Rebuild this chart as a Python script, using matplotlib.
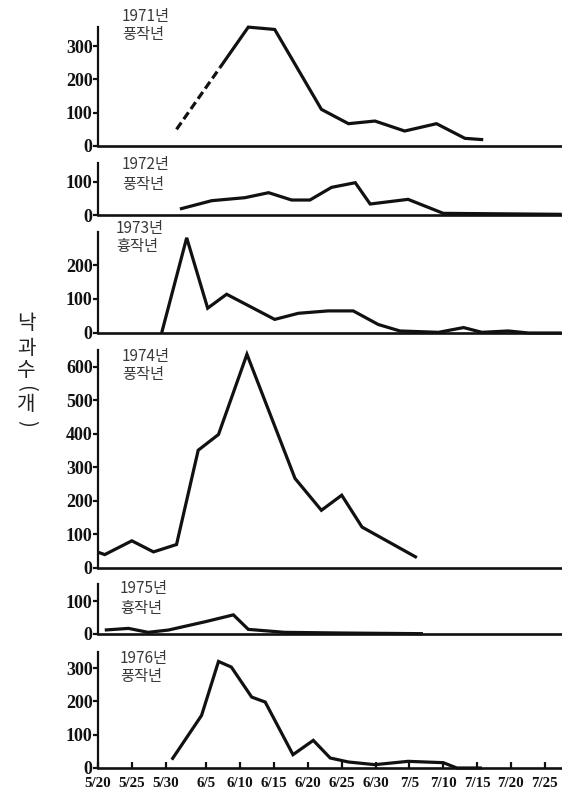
import matplotlib
matplotlib.use("Agg")
import matplotlib.pyplot as plt
from datetime import date

# ---- data: days counted from 20 May, dropped-fruit counts ----
days_1971_dashed = [11.6, 18.0]
vals_1971_dashed = [50, 235]
days_1971 = [18.0, 22.2, 26.1, 33.0, 37.0, 40.9, 45.3, 50.0, 54.2, 56.9]
vals_1971 = [235, 357, 350, 110, 67, 75, 45, 67, 23, 19]

days_1972 = [12.1, 16.8, 21.7, 25.2, 28.6, 31.3, 34.5, 38.0, 40.2, 45.8, 51.0, 68.5]
vals_1972 = [18, 43, 52, 67, 45, 45, 83, 97, 33, 47, 5, 2]

days_1973 = [9.4, 13.1, 16.2, 19.0, 26.1, 29.6, 34.0, 37.7, 41.4, 44.6, 50.3, 54.0,
             56.7, 60.6, 63.6, 68.5]
vals_1973 = [0, 280, 73, 114, 40, 58, 65, 65, 25, 6, 2, 16, 2, 6, 0, 0]

days_1974 = [0.0, 1.0, 5.0, 8.2, 11.6, 14.8, 17.8, 22.0, 29.1, 33.0, 36.0, 39.0, 47.1]
vals_1974 = [47, 40, 81, 48, 70, 351, 398, 637, 267, 172, 217, 122, 31]

days_1975 = [1.0, 4.5, 7.4, 10.4, 15.8, 20.0, 22.2, 27.6, 36.0, 48.0]
vals_1975 = [12, 17, 5, 12, 37, 58, 14, 5, 3, 1]

days_1976 = [10.9, 15.3, 17.8, 19.7, 22.7, 24.7, 28.8, 31.8, 34.3, 37.0, 40.9, 45.8,
             51.0, 53.0, 56.7]
vals_1976 = [25, 158, 320, 303, 213, 198, 40, 83, 30, 18, 10, 20, 16, 0, 0]

years = ["1971년", "1972년", "1973년", "1974년", "1975년", "1976년"]
harvest = ["풍작년", "풍작년", "흉작년", "풍작년", "흉작년", "풍작년"]
yticks = [[0, 100, 200, 300], [0, 100], [0, 100, 200],
          [0, 100, 200, 300, 400, 500, 600], [0, 100], [0, 100, 200, 300]]
xtick_labels = ["5/20", "5/25", "5/30", "6/5", "6/10", "6/15", "6/20", "6/25",
                "6/30", "7/5", "7/10", "7/15", "7/20", "7/25"]
ylabel_chars = ["낙", "과", "수", "(", "개", ")"]

series = [(days_1971, vals_1971), (days_1972, vals_1972), (days_1973, vals_1973),
          (days_1974, vals_1974), (days_1975, vals_1975), (days_1976, vals_1976)]

# ---- layout (pixels) ----
W, H = 562, 792
LEFT, RIGHT = 98, 562
PX_PER_DAY = 6.77
# (baseline y in px, y-limit top, px per count unit)
panels = [(146, 358, 0.333), (215, 156, 0.333), (333, 298, 0.34),
          (568, 650, 0.3355), (634, 153, 0.33), (768, 348, 0.333)]
label_pos = [(122, 16, 35), (122, 165, 184), (116, 228, 246),
             (122, 356, 374), (120, 589, 608), (120, 658, 676)]

start = date(1976, 5, 20)
def day_offset(lbl):
    m, d = (int(p) for p in lbl.split("/"))
    return (date(1976, m, d) - start).days

xtick_pos = [day_offset(t) for t in xtick_labels]

fig = plt.figure(figsize=(W / 100, H / 100), dpi=100)
fig.patch.set_facecolor("white")

LINE_KW = dict(color="#111111", lw=2.3, solid_joinstyle="miter", solid_capstyle="butt")
TICK_FONT = dict(family=["Liberation Serif"], weight="bold", size=13)
XTICK_FONT = dict(family=["Liberation Serif"], weight="bold", size=10.8)
KR = ["Noto Sans CJK KR", "DejaVu Sans"]

axes = []
for i, ((y0, ymax, ppu), (xs, ys)) in enumerate(zip(panels, series)):
    h = ymax * ppu
    ax = fig.add_axes([LEFT / W, (H - y0) / H, (RIGHT - LEFT) / W, h / H])
    ax.set_facecolor("none")
    ax.set_xlim(0, (RIGHT - LEFT) / PX_PER_DAY)
    ax.set_ylim(0, ymax)
    for s in ("top", "right"):
        ax.spines[s].set_visible(False)
    ax.spines["left"].set_linewidth(1.6)
    ax.spines["bottom"].set_linewidth(1.9)
    ax.spines["left"].set_color("#111111")
    ax.spines["bottom"].set_color("#111111")
    ax.spines["bottom"].set_zorder(1)

    ax.plot(xs, ys, clip_on=False, zorder=3, **LINE_KW)
    if i == 0:
        ax.plot(days_1971_dashed, vals_1971_dashed, color="#111111", lw=2.3,
                dashes=(2.6, 1.3), dash_capstyle="butt", zorder=3)

    ax.set_yticks(yticks[i])
    ax.set_yticklabels([str(v) for v in yticks[i]], **TICK_FONT)
    ax.tick_params(axis="y", direction="out", length=3.5, width=1.6, pad=0.3,
                   colors="#111111")
    if i == len(panels) - 1:
        ax.set_xticks(xtick_pos)
        ax.set_xticklabels(xtick_labels, **XTICK_FONT)
        ax.tick_params(axis="x", direction="in", length=4.5, width=1.6, pad=6.5,
                       colors="#111111")
    else:
        ax.set_xticks([])
    axes.append(ax)

    lx, ly1, ly2 = label_pos[i]
    fig.text(lx / W, 1 - ly1 / H, years[i], family=KR, size=11, color="#3a3a3a",
             ha="left", va="center")
    fig.text(lx / W, 1 - ly2 / H, harvest[i], family=KR, size=11, color="#3a3a3a",
             ha="left", va="center")

# stacked vertical y-axis title
ylab_y = [323, 349, 371, 388, 405, 423]
for ch, yy in zip(ylabel_chars, ylab_y):
    rot = -90 if ch in "()" else 0
    fig.text(26 / W, 1 - yy / H, ch, family=KR, size=14.5, color="#222222",
             ha="center", va="center", rotation=rot)

fig.savefig("out.png", dpi=100, facecolor="white")
